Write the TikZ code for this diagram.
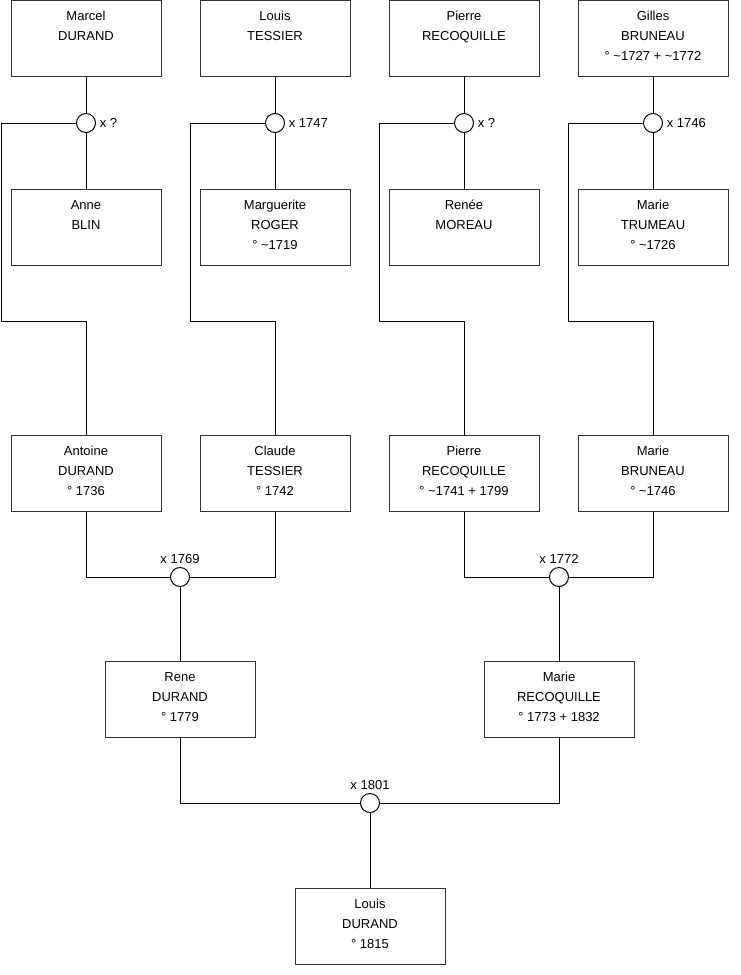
\documentclass[tikz,border=0pt]{standalone}
\usepackage{fontspec}
\setmainfont{Liberation Sans}
\usepackage{tikz}
\usetikzlibrary{positioning, calc}

\begin{document}
\begin{tikzpicture}[x=1pt, y=-1pt, line width=1pt,
    person/.style={draw=black!80, rectangle, minimum width=150pt, minimum height=76pt,
      align=center, inner sep=0pt, text depth=4pt, font=\fontsize{13}{20}\selectfont},
    wed/.style={draw, circle, fill=white, minimum size=19pt, inner sep=0pt,
      label distance=0pt},
    every label/.style={font=\fontsize{13}{16}\selectfont}]
      \useasboundingbox (0,0) rectangle (740,975);

      % Grandparents
      \node[person] (marcel) at (86,38) {Marcel\\DURAND\\\mbox{}};
      \node[person] (louisT) at (275,38) {Louis\\TESSIER\\\mbox{}};
      \node[person] (pierreR) at (464,38) {Pierre\\RECOQUILLE\\\mbox{}};
      \node[person] (gilles) at (653,38) {Gilles\\BRUNEAU\\° \textasciitilde1727 + \textasciitilde1772};

      \node[person] (anne) at (86,227) {Anne\\BLIN\\\mbox{}};
      \node[person] (marguerite) at (275,227) {Marguerite\\ROGER\\° \textasciitilde1719};
      \node[person] (renee) at (464,227) {Renée\\MOREAU\\\mbox{}};
      \node[person] (marieT) at (653,227) {Marie\\TRUMEAU\\° \textasciitilde1726};

      % Marriages, first generation
      \node[wed, label={right:x ?}] (w1) at (86,123) {};
      \node[wed, label={right:x 1747}] (w2) at (275,123) {};
      \node[wed, label={right:x ?}] (w3) at (464,123) {};
      \node[wed, label={right:x 1746}] (w4) at (653,123) {};

      % Parents
      \node[person] (antoine) at (86,473) {Antoine\\DURAND\\° 1736};
      \node[person] (claude) at (275,473) {Claude\\TESSIER\\° 1742};
      \node[person] (pierre) at (464,473) {Pierre\\RECOQUILLE\\° \textasciitilde1741 + 1799};
      \node[person] (marieB) at (653,473) {Marie\\BRUNEAU\\° \textasciitilde1746};

      \node[wed, label={above:x 1769}] (w5) at (180,577) {};
      \node[wed, label={above:x 1772}] (w6) at (559,577) {};

      \node[person] (rene) at (180,699) {Rene\\DURAND\\° 1779};
      \node[person] (marieR) at (559,699) {Marie\\RECOQUILLE\\° 1773 + 1832};

      \node[wed, label={above:x 1801}] (w7) at (370,803) {};

      \node[person] (louis) at (370,926) {Louis\\DURAND\\° 1815};

      % Bends of the child lines
      \foreach \n/\x in {1/1, 2/190, 3/379, 4/568}
        \coordinate (b\n) at (\x,321);

      % Couples
      \foreach \h/\w/\f in {marcel/w1/anne, louisT/w2/marguerite, pierreR/w3/renee, gilles/w4/marieT} {
        \draw (\h) -- (\w);
        \draw (\w) -- (\f);
      }

      % Children
      \draw (w1.west) -| (b1) -| (antoine.north);
      \draw (w2.west) -| (b2) -| (claude.north);
      \draw (w3.west) -| (b3) -| (pierre.north);
      \draw (w4.west) -| (b4) -| (marieB.north);

      \draw (antoine.south) |- (w5.west);
      \draw (claude.south) |- (w5.east);
      \draw (w5) -- (rene);
      \draw (pierre.south) |- (w6.west);
      \draw (marieB.south) |- (w6.east);
      \draw (w6) -- (marieR);

      \draw (rene.south) |- (w7.west);
      \draw (marieR.south) |- (w7.east);
      \draw (w7) -- (louis);
    \end{tikzpicture}
\end{document}
